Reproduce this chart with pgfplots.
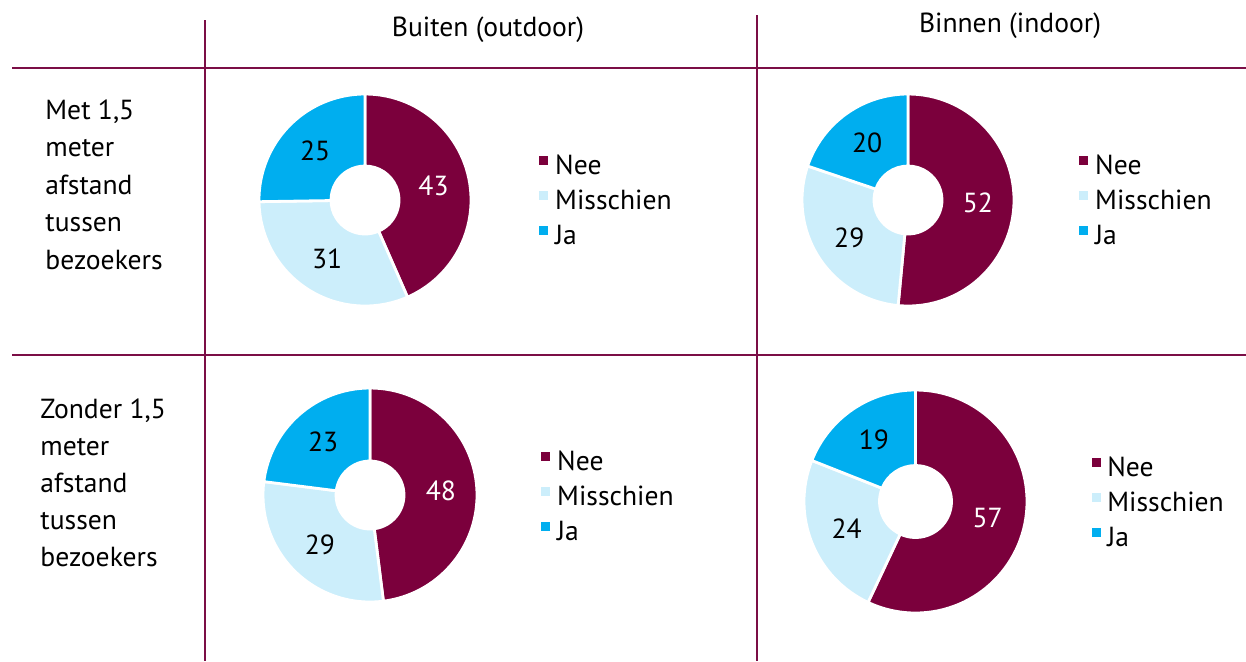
\documentclass[border=0pt]{standalone}
\usepackage{pgfplots}
\usepackage{pgfplotstable}
\pgfplotsset{compat=1.18}
\usepackage{fontspec}
\setmainfont{PT Sans}
\definecolor{nee}{HTML}{7B003C}
\definecolor{mis}{HTML}{CCEEFB}
\definecolor{ja}{HTML}{00AEEF}
\definecolor{grid}{HTML}{7B0E46}
\newcommand{\lfont}{\fontsize{13.8}{16}\selectfont}

% wedge mark: annular sector, drawn from the data row
\pgfdeclareplotmark{wedge}{%
  \pgfmathtruncatemacro\kk{\segk}%
  \pgfmathtruncatemacro\labt{round(\lab)}%
  \ifcase\kk\or\def\sc{nee}\def\tc{white}\or\def\sc{mis}\def\tc{black}\or\def\sc{ja}\def\tc{black}\fi
  \filldraw[fill=\sc, draw=white, line width=1.4pt]
    (\angA:\Ri) -- (\angA:\R) arc[start angle=\angA, end angle=\angB, radius=\R]
    -- (\angB:\Ri) arc[start angle=\angB, end angle=\angA, radius=\Ri] -- cycle;
  \node[text=\tc, font=\lfont, inner sep=0pt] at ({(\angA+\angB)/2}:\RL) {\labt};
}

\pgfplotsset{
  donut/.style={
    hide axis, scale only axis, width=100pt, height=100pt,
    xmin=-1, xmax=1, ymin=-1, ymax=1, clip=false, anchor=center,
    legend style={draw=none, fill=none, inner sep=0pt, anchor=west,
      row sep=4.5pt, font=\lfont,
      nodes={inner sep=0pt, text height=10pt, text depth=3pt}},
    legend cell align=left,
    /tikz/every odd column/.append style={column sep=3.5pt},
  },
  wedgeplot/.style={
    only marks, mark=wedge, forget plot,
    visualization depends on={\thisrow{a0}\as\angA},
    visualization depends on={\thisrow{a1}\as\angB},
    visualization depends on={\thisrow{v}\as\lab},
    visualization depends on={\thisrow{k}\as\segk},
  },
  legnee/.style={legend image code/.code={\fill[nee] (0pt,1.3pt) rectangle (4pt,5.3pt);}},
  legmis/.style={legend image code/.code={\fill[mis] (0pt,1.3pt) rectangle (4pt,5.3pt);}},
  legja/.style={legend image code/.code={\fill[ja] (0pt,1.3pt) rectangle (4pt,5.3pt);}},
}

% k: 1 = Nee, 2 = Misschien, 3 = Ja
% Buiten, met 1,5 m
\pgfplotstableread{
x y a0 a1 v k
0 0 90 -66.36 43 1
0 0 -66.36 -179.09 31 2
0 0 -179.09 -270 25 3
}\tabTL
% Binnen, met 1,5 m
\pgfplotstableread{
x y a0 a1 v k
0 0 90 -95.35 52 1
0 0 -95.35 -198.71 29 2
0 0 -198.71 -270 20 3
}\tabTR
% Buiten, zonder 1,5 m
\pgfplotstableread{
x y a0 a1 v k
0 0 90 -82.8 48 1
0 0 -82.8 -187.2 29 2
0 0 -187.2 -270 23 3
}\tabBL
% Binnen, zonder 1,5 m
\pgfplotstableread{
x y a0 a1 v k
0 0 90 -115.2 57 1
0 0 -115.2 -201.6 24 2
0 0 -201.6 -270 19 3
}\tabBR

\begin{document}
\begin{tikzpicture}
\useasboundingbox (0pt,0pt) rectangle (623pt,-330.5pt);
% grid
\draw[grid, line width=1pt] (6pt,-34pt) -- (623pt,-34pt);
\draw[grid, line width=1pt] (6pt,-177.5pt) -- (623pt,-177.5pt);
\draw[grid, line width=1pt] (102.5pt,-10pt) -- (102.5pt,-330.5pt);
\draw[grid, line width=1pt] (378.5pt,-7.5pt) -- (378.5pt,-330.5pt);
% headers
\node[anchor=base, font=\lfont, inner sep=0pt] at (244pt,-18pt) {Buiten (outdoor)};
\node[anchor=base, font=\lfont, inner sep=0pt] at (505pt,-16pt) {Binnen (indoor)};
% row labels
\begin{scope}[every node/.style={anchor=base west, font=\lfont, inner sep=0pt}]
\node at (22.5pt,-59.5pt) {Met 1,5};
\node at (22.5pt,-78.25pt) {meter};
\node at (22.5pt,-97pt) {afstand};
\node at (22.5pt,-115.75pt) {tussen};
\node at (22.5pt,-134.5pt) {bezoekers};
\node at (20pt,-209pt) {Zonder 1,5};
\node at (20pt,-227.5pt) {meter};
\node at (20pt,-246pt) {afstand};
\node at (20pt,-264.5pt) {tussen};
\node at (20pt,-283pt) {bezoekers};
\end{scope}

\def\R{53pt}\def\Ri{17pt}\def\RL{35pt}
\begin{axis}[donut, at={(182.5pt,-100pt)}, legend style={at={(1.37,0.49)}}]
\addplot[wedgeplot] table[x=x,y=y] {\tabTL};
\addlegendimage{legnee}\addlegendentry{Nee}
\addlegendimage{legmis}\addlegendentry{Misschien}
\addlegendimage{legja}\addlegendentry{Ja}
\end{axis}

\begin{axis}[donut, at={(454pt,-100pt)}, legend style={at={(1.355,0.49)}}]
\addplot[wedgeplot] table[x=x,y=y] {\tabTR};
\addlegendimage{legnee}\addlegendentry{Nee}
\addlegendimage{legmis}\addlegendentry{Misschien}
\addlegendimage{legja}\addlegendentry{Ja}
\end{axis}

\def\R{53.5pt}\def\Ri{17pt}\def\RL{35.5pt}
\begin{axis}[donut, at={(185pt,-247.5pt)}, legend style={at={(1.355,0.485)}}]
\addplot[wedgeplot] table[x=x,y=y] {\tabBL};
\addlegendimage{legnee}\addlegendentry{Nee}
\addlegendimage{legmis}\addlegendentry{Misschien}
\addlegendimage{legja}\addlegendentry{Ja}
\end{axis}

\def\R{55.75pt}\def\Ri{18pt}\def\RL{37pt}
\begin{axis}[donut, at={(457.75pt,-250.75pt)}, legend style={at={(1.378,0.4875)}}]
\addplot[wedgeplot] table[x=x,y=y] {\tabBR};
\addlegendimage{legnee}\addlegendentry{Nee}
\addlegendimage{legmis}\addlegendentry{Misschien}
\addlegendimage{legja}\addlegendentry{Ja}
\end{axis}
\end{tikzpicture}
\end{document}
